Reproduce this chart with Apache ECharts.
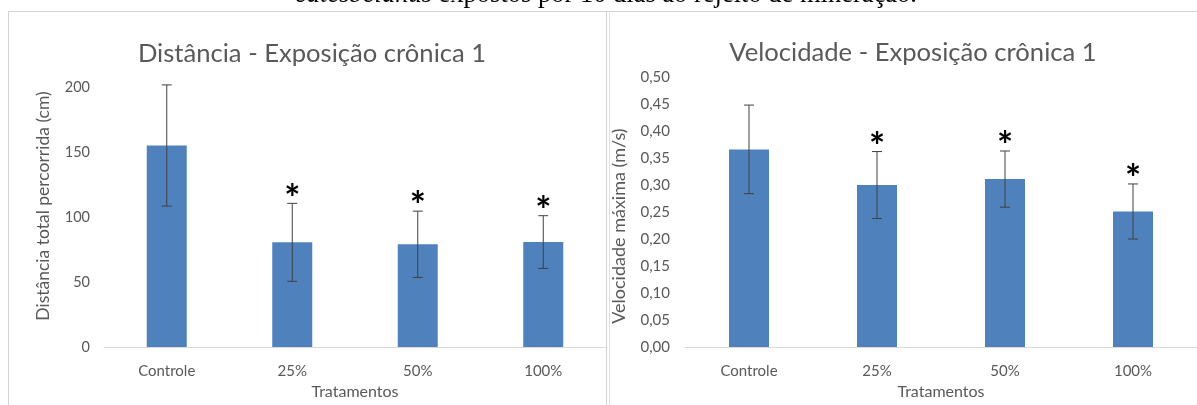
<!DOCTYPE html>
<html><head><meta charset="utf-8">
<script src="https://cdn.jsdelivr.net/npm/echarts@6/dist/echarts.min.js"></script>
<style>html,body{margin:0;padding:0;background:#fff;overflow:hidden}#c{width:1197px;height:405px}</style>
</head><body><div id="c"></div>
<script>
// ---- data ----
const categories = ['Controle', '25%', '50%', '100%'];
const distMean = [155, 80.5, 79, 80.7];
const distErr = [46.6, 30, 25.5, 20.3];
const velMean = [0.366, 0.300, 0.311, 0.251];
const velErr = [0.082, 0.062, 0.052, 0.051];
const significant = [false, true, true, true];
const titles = ['Distância - Exposição crônica 1', 'Velocidade - Exposição crônica 1'];
const yNames = ['Distância total percorrida (cm)', 'Velocidade máxima (m/s)'];
const xName = 'Tratamentos';
const caption = ['catesbeianus', ' expostos por 10 dias ao rejeito de mineração.'];

const TXT = '#595959';
const BAR = '#4F81BD';
const FONT = 'Lato';

function errData(mean, err) {
  return categories.map((c, i) => [i, mean[i], err[i], significant[i] ? 1 : 0]);
}
function renderErr(params, api) {
  const i = api.value(0), m = api.value(1), e = api.value(2), s = api.value(3);
  const top = api.coord([i, m + e]);
  const bot = api.coord([i, m - e]);
  const hw = 5;
  const ls = { stroke: '#404040', lineWidth: 1 };
  const children = [
    { type: 'line', shape: { x1: top[0], y1: top[1], x2: bot[0], y2: bot[1] }, style: ls },
    { type: 'line', shape: { x1: top[0] - hw, y1: top[1], x2: top[0] + hw, y2: top[1] }, style: ls },
    { type: 'line', shape: { x1: bot[0] - hw, y1: bot[1], x2: bot[0] + hw, y2: bot[1] }, style: ls }
  ];
  if (s) {
    children.push({ type: 'text', x: top[0], y: top[1] - 4,
      style: { text: '*', font: 'bold 38px ' + FONT, fill: '#000', align: 'center', verticalAlign: 'middle' } });
  }
  return { type: 'group', children };
}

const gridsPx = [
  { left: 104, width: 502, top: 87, height: 264 },
  { left: 685, width: 521, top: 77, height: 278 }
];

const chart = echarts.init(document.getElementById('c'), null, { renderer: 'canvas' });
const option = {
  animation: false,
  backgroundColor: '#fff',
  textStyle: { fontFamily: FONT },
  title: [
    { text: titles[0], left: 307, top: 36, textAlign: 'center',
      textStyle: { color: TXT, fontSize: 25.6, fontWeight: 'normal', fontFamily: FONT } },
    { text: titles[1], left: 908, top: 35, textAlign: 'center',
      textStyle: { color: TXT, fontSize: 25.6, fontWeight: 'normal', fontFamily: FONT } }
  ],
  grid: gridsPx.map(g => Object.assign({ containLabel: false }, g)),
  xAxis: [0, 1].map(k => ({
    type: 'category', gridIndex: k, data: categories,
    axisLine: { lineStyle: { color: '#d9d9d9', width: 1 } },
    axisTick: { show: false },
    axisLabel: { color: TXT, fontSize: 15, margin: 17, fontFamily: FONT },
    name: xName, nameLocation: 'middle', nameGap: k === 0 ? 37 : 33,
    nameTextStyle: { color: TXT, fontSize: 16, fontFamily: FONT, verticalAlign: 'top' }
  })),
  yAxis: [
    { type: 'value', gridIndex: 0, min: 0, max: 200, interval: 50,
      axisLine: { show: false }, axisTick: { show: false }, splitLine: { show: false },
      axisLabel: { color: TXT, fontSize: 14.5, margin: 14, fontFamily: FONT },
      name: yNames[0], nameLocation: 'middle', nameGap: 52,
      nameTextStyle: { color: TXT, fontSize: 17.5, fontFamily: FONT, padding: [0, 0, 0, 22] } },
    { type: 'value', gridIndex: 1, min: 0, max: 0.5, interval: 0.05,
      axisLine: { show: false }, axisTick: { show: false }, splitLine: { show: false },
      axisLabel: { color: TXT, fontSize: 15, margin: 15, fontFamily: FONT,
        formatter: v => v.toFixed(2).replace('.', ',') },
      name: yNames[1], nameLocation: 'middle', nameGap: 57,
      nameTextStyle: { color: TXT, fontSize: 18, fontFamily: FONT, padding: [0, 28, 0, 0] } }
  ],
  series: [
    { type: 'bar', xAxisIndex: 0, yAxisIndex: 0, data: distMean, barWidth: 40,
      itemStyle: { color: BAR } },
    { type: 'custom', xAxisIndex: 0, yAxisIndex: 0, data: errData(distMean, distErr),
      renderItem: renderErr, clip: false, z: 5 },
    { type: 'bar', xAxisIndex: 1, yAxisIndex: 1, data: velMean, barWidth: 40,
      itemStyle: { color: BAR } },
    { type: 'custom', xAxisIndex: 1, yAxisIndex: 1, data: errData(velMean, velErr),
      renderItem: renderErr, clip: false, z: 5 }
  ],
  graphic: [
    { type: 'text', x: 606, y: -4.5, z: 10,
      style: { text: '{i|' + caption[0] + '}{n|' + caption[1] + '}', align: 'center', verticalAlign: 'middle',
        rich: {
          i: { font: 'italic 26.5px "Liberation Serif"', fill: '#000' },
          n: { font: '26.5px "Liberation Serif"', fill: '#000' }
        } } },
    { type: 'line', shape: { x1: 8, y1: 11.5, x2: 1197, y2: 11.5 }, style: { stroke: '#d4d4d4', lineWidth: 1 } },
    { type: 'line', shape: { x1: 8.5, y1: 11, x2: 8.5, y2: 405 }, style: { stroke: '#d4d4d4', lineWidth: 1 } },
    { type: 'line', shape: { x1: 606.5, y1: 11, x2: 606.5, y2: 405 }, style: { stroke: '#d4d4d4', lineWidth: 1 } },
    { type: 'line', shape: { x1: 609.5, y1: 11, x2: 609.5, y2: 405 }, style: { stroke: '#e2e2e2', lineWidth: 1 } }
  ]
};
chart.setOption(option);
</script>
</body></html>
